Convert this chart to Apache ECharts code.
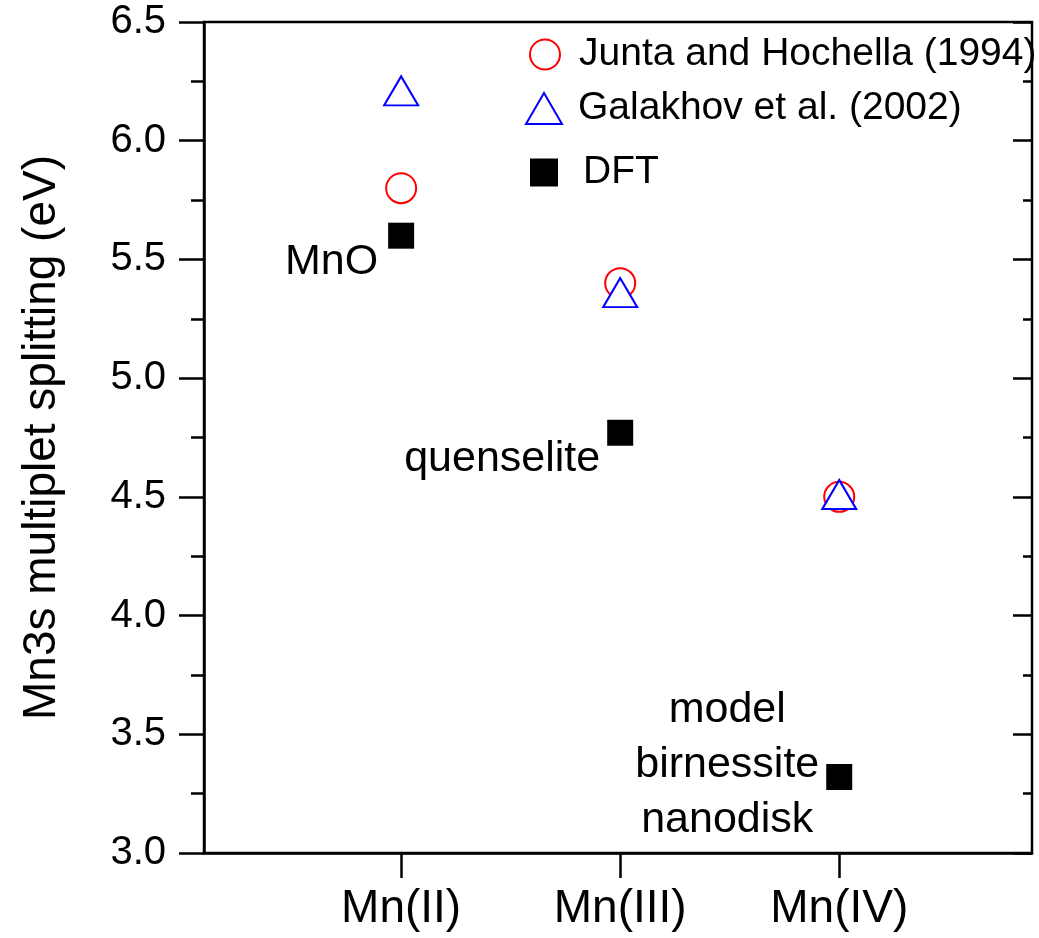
<!DOCTYPE html>
<html>
<head>
<meta charset="utf-8">
<script src="https://cdn.jsdelivr.net/npm/echarts@6/dist/echarts.min.js"></script>
<style>html,body{margin:0;padding:0;background:#fff}#c{width:1039px;height:938px}</style>
</head>
<body>
<div id="c"></div>
<script>
// categories on the x axis (positions 1,2,3)
var categories = ['Mn(II)', 'Mn(III)', 'Mn(IV)'];
var categoryPos = [1, 2, 3];
// series values (eV)
var juntaValues = [5.80, 5.40, 4.50];
var galakhovValues = [6.21, 5.36, 4.51];
var dftValues = [5.60, 4.77, 3.32];
var dftNotes = ['MnO', 'quenselite', 'model\nbirnessite\nnanodisk'];
var yTicks = ['3.0', '3.5', '4.0', '4.5', '5.0', '5.5', '6.0', '6.5'];
var seriesNames = ['Junta and Hochella (1994)', 'Galakhov et al. (2002)', 'DFT'];

var SANS = "'Liberation Sans', Arial, sans-serif";

function pairs(vals) { return vals.map(function (v, i) { return [categoryPos[i], v]; }); }

var noteStyles = [
  { align: 'right', offset: [-23, 26] },
  { align: 'right', offset: [-20, 26] },
  { align: 'center', offset: [-112, -12] }
];
var dftData = dftValues.map(function (v, i) {
  return {
    value: [categoryPos[i], v],
    label: {
      show: true, position: 'inside', formatter: dftNotes[i],
      align: noteStyles[i].align, verticalAlign: 'middle',
      offset: noteStyles[i].offset,
      color: '#000', fontFamily: SANS, fontSize: 43, lineHeight: 55
    }
  };
});

var chart = echarts.init(document.getElementById('c'), null, { renderer: 'canvas' });
function legendAt(name, cx, top, w, h, textX) {
  var gapToText = textX - (cx + w / 2) - 5;
  return {
    orient: 'vertical', left: cx - w / 2, top: top, itemWidth: w, itemHeight: h, itemGap: 0,
    data: [name],
    textStyle: { fontFamily: SANS, fontSize: 39, color: '#000', padding: [0, 0, 0, gapToText] }
  };
}
chart.setOption({
  animation: false,
  backgroundColor: '#fff',
  grid: { left: 204, right: 7, top: 22, bottom: 85, show: true, borderColor: '#000', borderWidth: 2.5, backgroundColor: 'transparent' },
  legend: [
    legendAt(seriesNames[0], 539, 30, 30, 30, 573),
    legendAt(seriesNames[1], 538, 84, 36, 31, 572),
    legendAt(seriesNames[2], 539, 148, 28, 28, 578)
  ],
  xAxis: [{
    type: 'value', min: 0.1, max: 3.88,
    splitLine: { show: false },
    axisLine: { show: true, onZero: false, lineStyle: { color: '#000', width: 2.5 } },
    axisTick: { show: true, inside: false, length: 25, customValues: categoryPos, lineStyle: { color: '#000', width: 2.5 } },
    axisLabel: {
      customValues: categoryPos, margin: 33, color: '#000', fontFamily: SANS, fontSize: 46,
      formatter: function (v) { var i = categoryPos.indexOf(Math.round(v)); return i >= 0 ? categories[i] : ''; }
    }
  }],
  yAxis: [{
    type: 'value', position: 'left', min: 3, max: 6.5, interval: 0.5,
    name: 'Mn3s multiplet splitting (eV)', nameLocation: 'middle', nameGap: 139,
    nameTextStyle: { fontFamily: SANS, fontSize: 46, color: '#000' },
    splitLine: { show: false },
    axisLine: { show: true, lineStyle: { color: '#000', width: 2.5 } },
    axisTick: { show: true, inside: false, length: 25, lineStyle: { color: '#000', width: 2.5 } },
    minorTick: { show: true, splitNumber: 2, length: 13, lineStyle: { color: '#000', width: 2.5 } },
    axisLabel: { margin: 38, color: '#000', fontFamily: SANS, fontSize: 40,
      formatter: function (v) { return yTicks[Math.round((v - 3) / 0.5)]; } }
  }, {
    type: 'value', position: 'right', min: 3, max: 6.5, interval: 0.5,
    splitLine: { show: false },
    axisLine: { show: false },
    axisTick: { show: true, inside: true, length: 19, lineStyle: { color: '#000', width: 2.5 } },
    minorTick: { show: true, splitNumber: 2, length: 9, lineStyle: { color: '#000', width: 2.5 } },
    axisLabel: { show: false }
  }],
  series: [{
    name: seriesNames[0], type: 'scatter', symbol: 'emptyCircle', symbolSize: 30,
    itemStyle: { color: '#ff0000', borderColor: '#ff0000', borderWidth: 1.6, opacity: 1 },
    data: pairs(juntaValues), z: 2
  }, {
    name: seriesNames[1], type: 'scatter', symbol: 'emptyTriangle', symbolSize: [34, 29],
    itemStyle: { color: '#0000ff', borderColor: '#0000ff', borderWidth: 1.6, opacity: 1 },
    data: pairs(galakhovValues), z: 3
  }, {
    name: seriesNames[2], type: 'scatter', symbol: 'rect', symbolSize: 26,
    itemStyle: { color: '#000', opacity: 1 },
    data: dftData, z: 4
  }]
});
</script>
</body>
</html>
